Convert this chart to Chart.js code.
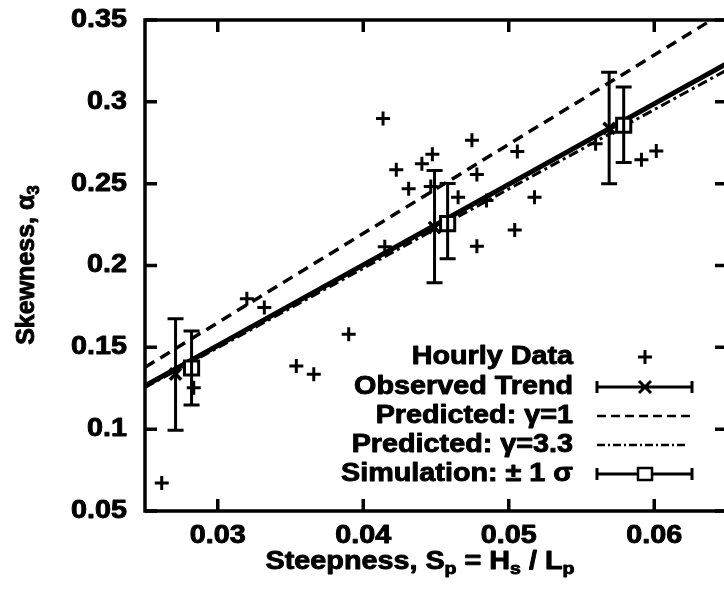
<!DOCTYPE html>
<html>
<head>
<meta charset="utf-8">
<script src="https://cdn.jsdelivr.net/npm/chart.js@4/dist/chart.umd.min.js"></script>
<style>
  html, body { margin: 0; padding: 0; background: #fff; overflow: hidden; }
  #wrap { width: 740px; height: 598px; }
</style>
</head>
<body>
<div id="wrap"><canvas id="skewChart" width="740" height="598"></canvas></div>
<script>
// hourly records
const hourlySteepness = [0.0320, 0.0332, 0.0390, 0.0354, 0.0366, 0.02615, 0.02835,
  0.04136, 0.04747, 0.04475, 0.04403, 0.04227, 0.04312, 0.05059, 0.04781, 0.04652,
  0.05177, 0.04464, 0.05041, 0.04781, 0.04148, 0.05597, 0.05912, 0.06014, 0.04847];
const hourlySkewness = [0.1797, 0.1743, 0.158, 0.1386, 0.1335, 0.0671, 0.1253,
  0.2898, 0.2765, 0.2679, 0.2622, 0.2585, 0.2469, 0.2697, 0.2556, 0.2417,
  0.2417, 0.2483, 0.2217, 0.2117, 0.2115, 0.2744, 0.2646, 0.2699, 0.2397];

// binned trend, +/- 1 sigma
const observedSteepness = [0.0271, 0.0449, 0.0569];
const observedSkewness = [0.1337, 0.2232, 0.2838];
const observedLow = [0.0994, 0.1895, 0.2500];
const observedHigh = [0.1674, 0.2580, 0.3180];

// simulation, +/- 1 sigma
const simSteepness = [0.0282, 0.0458, 0.0579];
const simSkewness = [0.1374, 0.2256, 0.2857];
const simLow = [0.1147, 0.2042, 0.2630];
const simHigh = [0.1600, 0.2501, 0.3090];

// straight lines, given at the ends of the x range
const lineSteepness = [0.025, 0.065];
const trendFit = [0.1265, 0.3235];
const predictedGamma1 = [0.1378, 0.3558];
const predictedGamma33 = [0.1255, 0.3195];

const xTicks = [0.03, 0.04, 0.05, 0.06];
const yTicks = [0.05, 0.1, 0.15, 0.2, 0.25, 0.3, 0.35];

const FONT = "bold 25px 'Liberation Sans', Arial, sans-serif";
const SUB_FONT = "bold 17px 'Liberation Sans', Arial, sans-serif";
const SX = 1.15; // letters are a bit wide in this figure

function pts(xs, ys) {
  return xs.map((x, i) => ({ x: x, y: ys[i] }));
}

// text made of plain and subscript pieces, stretched horizontally
function drawRich(ctx, parts, x, y, align) {
  ctx.save();
  let w = 0;
  parts.forEach(p => {
    ctx.font = p.sub ? SUB_FONT : FONT;
    p.w = ctx.measureText(p.t).width;
    w += p.w;
  });
  ctx.translate(x, y);
  ctx.scale(SX, 1);
  let cx = align === 'center' ? -w / 2 : (align === 'right' ? -w : 0);
  ctx.textAlign = 'left';
  ctx.textBaseline = 'middle';
  ctx.fillStyle = '#000';
  ctx.strokeStyle = '#000';
  ctx.lineWidth = 0.9;
  ctx.lineJoin = 'round';
  parts.forEach(p => {
    ctx.font = p.sub ? SUB_FONT : FONT;
    ctx.fillText(p.t, cx, p.sub ? 7 : 0);
    ctx.strokeText(p.t, cx, p.sub ? 7 : 0);
    cx += p.w;
  });
  ctx.restore();
}

function errBar(ctx, x, y1, y2, cap) {
  ctx.beginPath();
  ctx.moveTo(x, y1); ctx.lineTo(x, y2);
  ctx.moveTo(x - cap, y1); ctx.lineTo(x + cap, y1);
  ctx.moveTo(x - cap, y2); ctx.lineTo(x + cap, y2);
  ctx.stroke();
}

const errorBars = {
  id: 'errorBars',
  afterDatasetsDraw(chart) {
    const ctx = chart.ctx, xs = chart.scales.x, ys = chart.scales.y;
    ctx.save();
    ctx.strokeStyle = '#000';
    ctx.lineWidth = 3;
    observedSteepness.forEach((v, i) => {
      errBar(ctx, xs.getPixelForValue(v), ys.getPixelForValue(observedHigh[i]), ys.getPixelForValue(observedLow[i]), 8);
    });
    simSteepness.forEach((v, i) => {
      errBar(ctx, xs.getPixelForValue(v), ys.getPixelForValue(simHigh[i]), ys.getPixelForValue(simLow[i]), 8);
    });
    ctx.restore();
  }
};

const frameAndText = {
  id: 'frameAndText',
  afterDraw(chart) {
    const ctx = chart.ctx, a = chart.chartArea;
    const xs = chart.scales.x, ys = chart.scales.y;
    ctx.save();
    ctx.strokeStyle = '#000';
    ctx.lineWidth = 3.5;
    ctx.strokeRect(a.left, a.top, a.right - a.left, a.bottom - a.top);

    // inward ticks on all four sides
    ctx.beginPath();
    xTicks.forEach(v => {
      const px = xs.getPixelForValue(v);
      ctx.moveTo(px, a.bottom); ctx.lineTo(px, a.bottom - 12);
      ctx.moveTo(px, a.top); ctx.lineTo(px, a.top + 12);
    });
    yTicks.forEach(v => {
      const py = ys.getPixelForValue(v);
      ctx.moveTo(a.left, py); ctx.lineTo(a.left + 12, py);
      ctx.moveTo(a.right, py); ctx.lineTo(a.right - 12, py);
    });
    ctx.stroke();

    // tick labels
    xTicks.forEach(v => drawRich(ctx, [{ t: String(v) }], xs.getPixelForValue(v), a.bottom + 25, 'center'));
    yTicks.forEach(v => drawRich(ctx, [{ t: String(v) }], a.left - 18, ys.getPixelForValue(v), 'right'));

    // axis titles
    drawRich(ctx, [{ t: 'Steepness, S' }, { t: 'p', sub: true }, { t: ' = H' }, { t: 's', sub: true },
      { t: ' / L' }, { t: 'p', sub: true }], 420, a.bottom + 51, 'center');
    ctx.save();
    ctx.translate(27, 265);
    ctx.rotate(-Math.PI / 2);
    ctx.scale(1 / SX, 1);
    drawRich(ctx, [{ t: 'Skewness, α' }, { t: '3', sub: true }], 0, 0, 'center');
    ctx.restore();

    // key
    const tx = 573, sx0 = 597, sx1 = 692, mx = 645;
    const rows = [357, 387, 416, 445, 474];
    drawRich(ctx, [{ t: 'Hourly Data' }], tx, rows[0], 'right');
    drawRich(ctx, [{ t: 'Observed Trend' }], tx, rows[1], 'right');
    drawRich(ctx, [{ t: 'Predicted: γ=1' }], tx, rows[2], 'right');
    drawRich(ctx, [{ t: 'Predicted: γ=3.3' }], tx, rows[3], 'right');
    drawRich(ctx, [{ t: 'Simulation: ± 1 σ' }], tx, rows[4], 'right');

    ctx.lineWidth = 3;
    ctx.beginPath();
    ctx.moveTo(mx - 7, rows[0]); ctx.lineTo(mx + 7, rows[0]);
    ctx.moveTo(mx, rows[0] - 7); ctx.lineTo(mx, rows[0] + 7);
    [rows[1], rows[4]].forEach(ry => {
      ctx.moveTo(sx0, ry); ctx.lineTo(sx1, ry);
      ctx.moveTo(sx0, ry - 6); ctx.lineTo(sx0, ry + 6);
      ctx.moveTo(sx1, ry - 6); ctx.lineTo(sx1, ry + 6);
    });
    ctx.moveTo(mx - 6, rows[1] - 6); ctx.lineTo(mx + 6, rows[1] + 6);
    ctx.moveTo(mx - 6, rows[1] + 6); ctx.lineTo(mx + 6, rows[1] - 6);
    ctx.stroke();
    ctx.fillStyle = '#fff';
    ctx.lineWidth = 2.5;
    ctx.fillRect(mx - 7, rows[4] - 6, 14, 12);
    ctx.strokeRect(mx - 7, rows[4] - 6, 14, 12);

    ctx.lineWidth = 2.5;
    ctx.setLineDash([9, 5]);
    ctx.beginPath(); ctx.moveTo(sx0, rows[2]); ctx.lineTo(sx1, rows[2]); ctx.stroke();
    ctx.setLineDash([8, 3, 2, 3]);
    ctx.beginPath(); ctx.moveTo(sx0, rows[3]); ctx.lineTo(sx1 - 4, rows[3]); ctx.stroke();
    ctx.restore();
  }
};

const ctx = document.getElementById('skewChart').getContext('2d');
new Chart(ctx, {
  type: 'scatter',
  data: {
    datasets: [
      {
        label: 'Hourly Data',
        data: pts(hourlySteepness, hourlySkewness),
        pointStyle: 'cross',
        pointRadius: 7,
        borderWidth: 3,
        borderColor: '#000',
        order: 1
      },
      {
        label: 'Observed Trend',
        data: pts(observedSteepness, observedSkewness),
        pointStyle: 'crossRot',
        pointRadius: 8,
        borderWidth: 3.5,
        borderColor: '#000',
        order: 1
      },
      {
        label: 'Simulation',
        data: pts(simSteepness, simSkewness),
        pointStyle: 'rect',
        pointRadius: 10,
        borderWidth: 3,
        borderColor: '#000',
        backgroundColor: '#fff',
        order: 0
      },
      {
        label: 'Trend fit',
        data: pts(lineSteepness, trendFit),
        showLine: true,
        pointRadius: 0,
        borderWidth: 5,
        borderColor: '#000',
        order: 3
      },
      {
        label: 'Predicted: γ=1',
        data: pts(lineSteepness, predictedGamma1),
        showLine: true,
        pointRadius: 0,
        borderWidth: 3.5,
        borderDash: [11, 7],
        borderColor: '#000',
        order: 3
      },
      {
        label: 'Predicted: γ=3.3',
        data: pts(lineSteepness, predictedGamma33),
        showLine: true,
        pointRadius: 0,
        borderWidth: 3,
        borderDash: [10, 4, 3, 4],
        borderColor: '#000',
        order: 4
      }
    ]
  },
  options: {
    responsive: false,
    animation: false,
    layout: { padding: { left: 145, top: 20, right: 8, bottom: 87 } },
    plugins: { legend: { display: false }, tooltip: { enabled: false } },
    scales: {
      x: { type: 'linear', min: 0.025, max: 0.065, display: false },
      y: { type: 'linear', min: 0.05, max: 0.35, display: false }
    }
  },
  plugins: [errorBars, frameAndText]
});
</script>
</body>
</html>
